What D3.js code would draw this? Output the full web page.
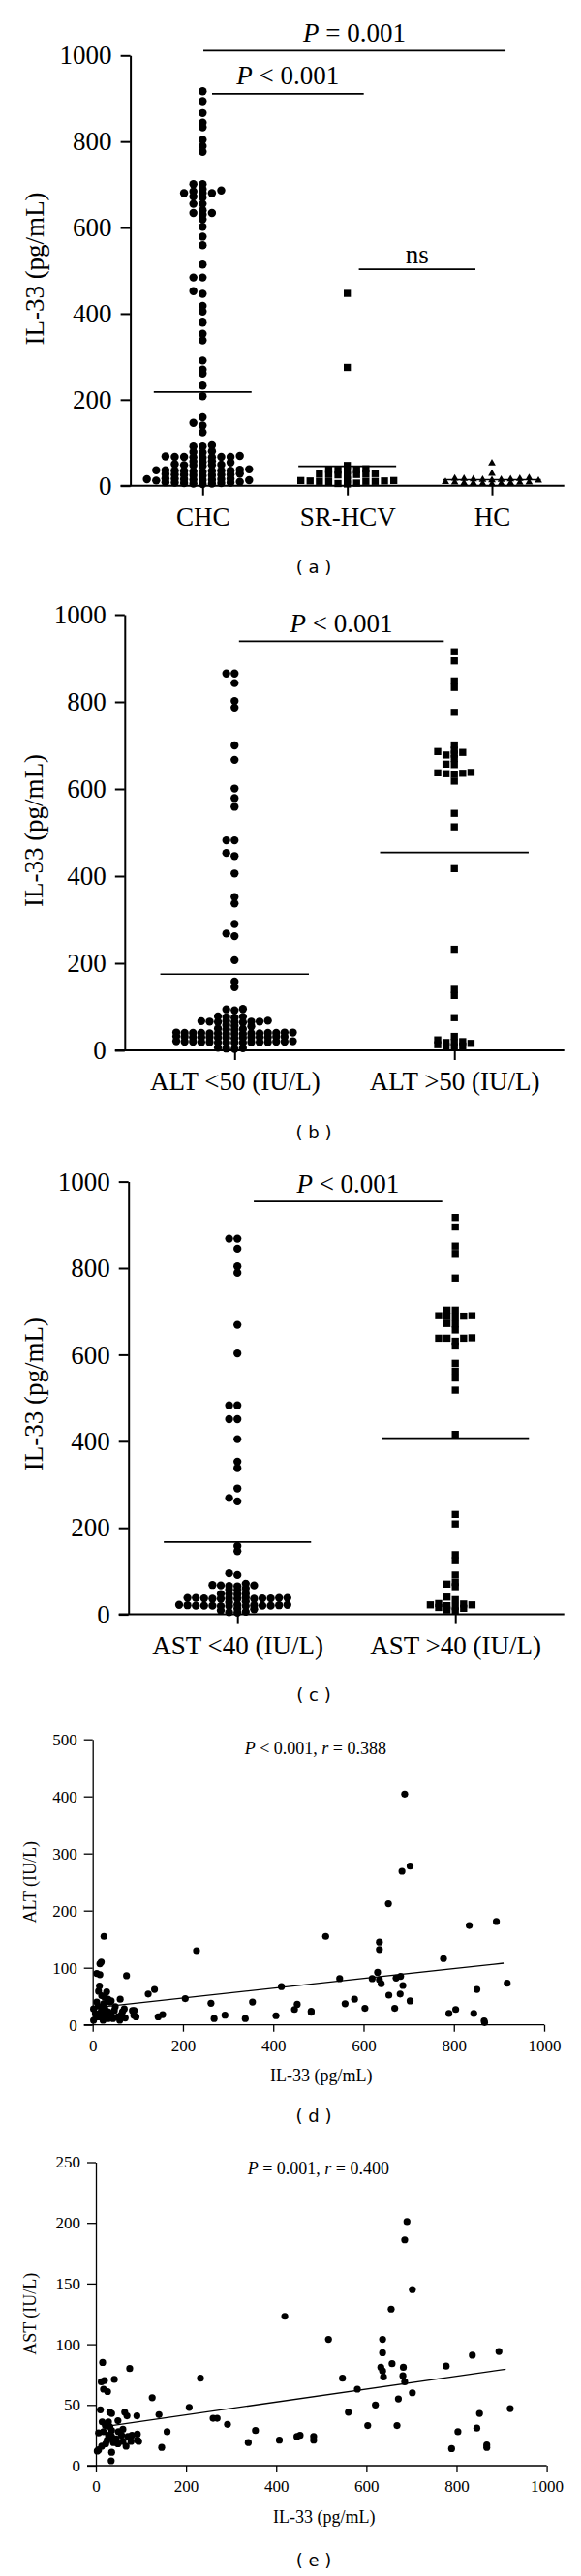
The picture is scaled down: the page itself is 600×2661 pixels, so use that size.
<!DOCTYPE html>
<html>
<head>
<meta charset="utf-8">
<script src="https://cdn.jsdelivr.net/npm/d3@7"></script>
<style>
  body { margin: 0; background: #fff; }
  svg { display: block; }
</style>
</head>
<body>
<div id="fig"></div>
<script>
// ---- data ----
const yTicksIL33 = [0, 200, 400, 600, 800, 1000];
const il33Ticks = [0, 200, 400, 600, 800, 1000];
const altTicks = [0, 100, 200, 300, 400, 500];
const astTicks = [0, 50, 100, 150, 200, 250];

// (a)
const groupsA = ["CHC", "SR-HCV", "HC"];
const chcIL33 = [917, 894, 866, 844, 833, 804, 789, 776, 701, 701, 689, 684, 680, 680, 680, 686, 670, 672,
  655, 655, 634, 634, 630, 640, 619, 602, 579, 559, 514, 484, 484, 446, 452, 418, 405, 379, 353, 338, 291,
  270, 261, 233, 208, 159, 146, 140, 124,
  94, 91, 91, 80, 78, 77, 69, 67, 67, 67, 66, 68, 65, 67, 66, 55, 57, 54, 56, 48, 49, 47, 50, 46, 48,
  35, 34, 36, 33, 38, 35, 34, 37, 32, 36, 35, 26, 24, 25, 27, 23, 25, 28, 24, 26,
  15, 14, 16, 13, 15, 17, 12, 14, 16, 15, 13, 6, 7, 5, 8, 4, 6, 7, 5, 9];
const srhcvIL33 = [447, 275, 47, 38, 36, 37, 35, 39, 26, 28, 25, 27, 24, 26, 27,
  12, 10, 11, 9, 13, 10, 11, 12, 10, 5, 4, 6];
const hcIL33 = [52, 28, 18, 15, 14, 16, 13, 17, 15, 12, 14, 16, 8, 6, 5, 7, 4, 6, 5, 8, 9, 6];
const meansA = [218, 45, 14];
const statsA = [
  { text: "*P* = 0.001", level: 1011, from: 0.005, to: 2.094, gap: 9 },
  { text: "*P* < 0.001", level: 911, from: 0.065, to: 1.114, gap: 9.5 },
  { text: "ns", level: 503, from: 1.08, to: 1.886, gap: 6.5 }
];

// (b)
const groupsB = ["ALT <50 (IU/L)", "ALT >50 (IU/L)"];
const altLowIL33 = [865, 865, 843, 802, 787, 700, 667, 601, 579, 559, 482, 482, 453, 446, 406, 352, 337,
  290, 268, 262, 207, 158, 145,
  95, 92, 94, 78, 76, 77, 75, 66, 67, 65, 66, 64, 68, 66, 65, 67, 58, 56, 55, 50, 48, 49, 47,
  40, 39, 41, 38, 40, 39, 38, 41, 40, 39, 40, 38, 41, 39, 40,
  30, 31, 29, 30, 32, 30, 29, 31, 30, 28, 31, 30, 29, 30,
  20, 19, 18, 20, 19, 21, 18, 19, 20, 18, 19, 21, 20, 18, 19, 6, 4, 5, 3];
const altHighIL33 = [915, 894, 848, 833, 776, 701, 689, 684, 680, 678, 686, 670, 657, 656, 636, 634, 637,
  635, 638, 618, 544, 513, 417, 232, 140, 126, 75, 32, 20, 18, 13, 10, 8, 9, 16, 18, 24];
const meansB = [175, 454];
const statsB = [{ text: "*P* < 0.001", level: 939, from: 0.02, to: 0.952, gap: 9 }];

// (c)
const groupsC = ["AST <40 (IU/L)", "AST >40 (IU/L)"];
const astLowIL33 = [868, 868, 845, 804, 789, 669, 603, 483, 483, 451, 451, 405, 353, 338, 291, 269, 261,
  158, 146,
  95, 91, 71, 67, 68, 66, 67, 65, 60, 56, 57, 48, 47, 46, 47,
  38, 37, 36, 38, 37, 39, 36, 37, 38, 36, 37, 38, 36, 30, 28,
  22, 20, 21, 19, 20, 22, 21, 20, 19, 21, 20, 22, 19, 20, 13, 12, 9, 6, 4, 5];
const astHighIL33 = [917, 895, 851, 834, 777, 703, 703, 689, 690, 688, 690, 687, 672, 671, 657, 639, 638,
  631, 638, 638, 620, 580, 562, 546, 518, 416, 231, 209, 138, 124, 91, 74, 70, 64, 40, 34,
  25, 22, 20, 14, 10, 8, 16, 18, 22, 24];
const meansC = [167, 407];
const statsC = [{ text: "*P* < 0.001", level: 954, from: 0.075, to: 0.94, gap: 9 }];

// (d) [IL-33, ALT]
const il33ALT = [[691, 404], [685, 269], [703, 278], [655, 212], [834, 174], [894, 181], [516, 155],
  [25, 155], [635, 145], [635, 132], [230, 130], [777, 116], [16, 107], [19, 110], [631, 92], [9, 90],
  [16, 88], [75, 86], [619, 81], [635, 79], [639, 72], [547, 81], [672, 82], [682, 85], [687, 69],
  [918, 73], [418, 67], [137, 62], [123, 54], [205, 46], [262, 38], [354, 40], [453, 36], [447, 27],
  [484, 24], [484, 22], [656, 52], [681, 54], [703, 42], [580, 45], [559, 37], [603, 29], [669, 29],
  [851, 62], [789, 20], [804, 27], [844, 20], [867, 7], [868, 4], [269, 11], [293, 17], [338, 11],
  [406, 16], [145, 14], [155, 18], [92, 25], [96, 14],
  [15, 68], [13, 59], [31, 58], [20, 51], [27, 48], [34, 45], [41, 42], [61, 45], [9, 40], [24, 37],
  [38, 40], [88, 25], [91, 17], [70, 28], [66, 23], [63, 17], [48, 25], [41, 20], [56, 14], [45, 11],
  [2, 28], [6, 20], [9, 14], [2, 8], [27, 28], [34, 23], [27, 17], [34, 11], [23, 8], [16, 14],
  [20, 30], [12, 33], [50, 32], [30, 20], [18, 22], [60, 8], [72, 12]];
const fitALT = [[30, 32.5], [910, 108]];

// (e) [IL-33, AST]
const il33AST = [[690, 201], [685, 186], [702, 145], [655, 129], [419, 123], [516, 104], [636, 104],
  [636, 93], [657, 84], [894, 94], [835, 91], [777, 82], [632, 81], [636, 78], [638, 73], [682, 81],
  [681, 74], [685, 69], [547, 72], [580, 63], [232, 72], [702, 60], [671, 55], [620, 50], [560, 44],
  [603, 33], [668, 33], [919, 47], [851, 43], [845, 31], [803, 28], [789, 14], [867, 17], [867, 15],
  [207, 48], [260, 39], [269, 39], [292, 34], [354, 29], [338, 19], [407, 21], [446, 24], [453, 25],
  [483, 24], [483, 21], [125, 56], [140, 42], [158, 28], [146, 15], [75, 80], [15, 85], [12, 69],
  [19, 70], [41, 71], [17, 63], [26, 61], [10, 46], [31, 44], [35, 43], [64, 44], [69, 41], [91, 41],
  [49, 37], [14, 36], [21, 33], [31, 32], [6, 27], [17, 28], [28, 25], [35, 29], [35, 24], [25, 21],
  [39, 19], [57, 25], [71, 24], [60, 20], [49, 18], [67, 16], [78, 20], [92, 26], [92, 21], [95, 20],
  [6, 13], [3, 12], [35, 11], [34, 4], [13, 16], [45, 22], [22, 18], [80, 25], [50, 28], [60, 30], [28, 36]];
const fitAST = [[35, 33], [909, 79.5]];

// ---- drawing ----
const serif = "'Liberation Serif', 'Times New Roman', serif";
const sans = "'DejaVu Sans', Verdana, sans-serif";
const fmt = d3.format("d");

const svg = d3.select("#fig").append("svg")
  .attr("width", 600)
  .attr("height", 2661);
svg.append("rect").attr("width", 600).attr("height", 2661).attr("fill", "#fff");

// text with *italic* segments
function richText(g, str, x, y, size) {
  const t = g.append("text")
    .attr("x", x).attr("y", y)
    .attr("text-anchor", "middle")
    .attr("font-family", serif)
    .attr("font-size", size);
  str.split("*").forEach((s, i) => {
    if (s) t.append("tspan").attr("font-style", i % 2 ? "italic" : "normal").text(s);
  });
}

function caption(letter, y) {
  svg.append("text")
    .attr("x", 324).attr("y", y)
    .attr("text-anchor", "middle")
    .attr("font-family", sans)
    .attr("font-size", 18)
    .attr("xml:space", "preserve")
    .text(`( ${letter} )`);
}

// column layout, ascending values, alternate sides
function swarm(vals, y, cx, colStep, minGap) {
  const pts = vals.map(v => ({ v, py: y(v) })).sort((a, b) => a.v - b.v);
  const placed = [];
  pts.forEach(p => {
    for (let k = 0; k < 80; k++) {
      const col = Math.ceil(k / 2) * (k % 2 ? -1 : 1);
      if (!placed.some(q => q.col === col && Math.abs(q.py - p.py) < minGap)) {
        p.col = col;
        break;
      }
    }
    p.px = cx + p.col * colStep;
    placed.push(p);
  });
  return pts;
}

function styleAxis(a, size, sw) {
  a.attr("font-family", serif).attr("font-size", size);
  a.selectAll("line,path").attr("stroke", "#000").attr("stroke-width", sw);
  a.selectAll("text").attr("fill", "#000");
}

function dotPanel(p) {
  const f = p.frame;
  const y = d3.scaleLinear().domain([0, 1000]).range([f.bottom, f.top]);
  const x = d3.scalePoint().domain(p.groups).range([f.left, f.right]).padding(0.5);
  const step = x.step();
  const g = svg.append("g");

  const ya = g.append("g")
    .attr("transform", `translate(${f.left},0)`)
    .call(d3.axisLeft(y).tickValues(yTicksIL33).tickFormat(fmt)
      .tickSize(10).tickSizeOuter(0).tickPadding(9));
  styleAxis(ya, 27, 2);

  const xa = g.append("g")
    .attr("transform", `translate(0,${f.bottom})`)
    .call(d3.axisBottom(x).tickSize(10).tickSizeOuter(0).tickPadding(12));
  xa.select(".domain").remove();
  styleAxis(xa, 27, 2);
  g.append("line")
    .attr("x1", f.left - 10).attr("x2", f.right)
    .attr("y1", f.bottom).attr("y2", f.bottom)
    .attr("stroke", "#000").attr("stroke-width", 2);

  // means
  g.selectAll(".mean")
    .data(p.means)
    .join("line")
    .attr("class", "mean")
    .attr("x1", (d, i) => x(p.groups[i]) - 0.338 * step)
    .attr("x2", (d, i) => x(p.groups[i]) + 0.338 * step)
    .attr("y1", d => y(d))
    .attr("y2", d => y(d))
    .attr("stroke", "#000")
    .attr("stroke-width", 1.7);

  p.series.forEach((vals, i) => {
    const pts = swarm(vals, y, x(p.groups[i]), p.colStep, p.gap);
    g.append("g")
      .selectAll("path")
      .data(pts)
      .join("path")
      .attr("transform", d => `translate(${d.px},${d.py})`)
      .attr("d", d3.symbol().type(p.shapes[i]).size(p.sizes[i]))
      .attr("fill", "#000");
  });

  p.stats.forEach(s => {
    const x1 = x(p.groups[0]) + s.from * step;
    const x2 = x(p.groups[0]) + s.to * step;
    const yy = y(s.level);
    g.append("line")
      .attr("x1", x1).attr("x2", x2).attr("y1", yy).attr("y2", yy)
      .attr("stroke", "#000").attr("stroke-width", 1.8);
    richText(g, s.text, (x1 + x2) / 2, yy - s.gap, 27);
  });

  g.append("text")
    .attr("transform", `translate(${p.ylabX},${(f.top + f.bottom) / 2 + p.ylabDy}) rotate(-90)`)
    .attr("text-anchor", "middle")
    .attr("dy", "0.35em")
    .attr("font-family", serif)
    .attr("font-size", 27)
    .text("IL-33 (pg/mL)");

  caption(p.caption, p.captionY);
}

function scatterPanel(p) {
  const f = p.frame;
  const x = d3.scaleLinear().domain([0, 1000]).range([f.left, f.right]);
  const y = d3.scaleLinear().domain([0, p.yMax]).range([f.bottom, f.top]);
  const g = svg.append("g");

  const ya = g.append("g")
    .attr("transform", `translate(${f.left},0)`)
    .call(d3.axisLeft(y).tickValues(p.yTicks).tickFormat(fmt)
      .tickSize(9).tickSizeOuter(0).tickPadding(7));
  styleAxis(ya, 17, 1.3);

  const xa = g.append("g")
    .attr("transform", `translate(0,${f.bottom})`)
    .call(d3.axisBottom(x).tickValues(il33Ticks).tickFormat(fmt)
      .tickSize(7).tickSizeOuter(0).tickPadding(8));
  xa.select(".domain").remove();
  styleAxis(xa, 17, 1.3);
  g.append("line")
    .attr("x1", f.left - 9).attr("x2", f.right)
    .attr("y1", f.bottom).attr("y2", f.bottom)
    .attr("stroke", "#000").attr("stroke-width", 1.3);

  g.append("g")
    .selectAll("circle")
    .data(p.data)
    .join("circle")
    .attr("cx", d => x(d[0]))
    .attr("cy", d => y(d[1]))
    .attr("r", 3.6)
    .attr("fill", "#000");

  g.append("path")
    .attr("d", d3.line().x(d => x(d[0])).y(d => y(d[1]))(p.fit))
    .attr("fill", "none")
    .attr("stroke", "#000")
    .attr("stroke-width", 1.3);

  richText(g, p.title, (f.left + f.right) / 2 - 3, p.titleY, 18);

  g.append("text")
    .attr("x", (f.left + f.right) / 2 + 3).attr("y", p.xlabY)
    .attr("text-anchor", "middle")
    .attr("font-family", serif)
    .attr("font-size", 18)
    .text("IL-33 (pg/mL)");

  g.append("text")
    .attr("transform", `translate(31,${(f.top + f.bottom) / 2}) rotate(-90)`)
    .attr("text-anchor", "middle")
    .attr("dy", "0.35em")
    .attr("font-family", serif)
    .attr("font-size", 18)
    .text(p.ylab);

  caption(p.caption, p.captionY);
}

dotPanel({
  frame: { left: 134.6, right: 582.7, top: 57.3, bottom: 501.7 },
  groups: groupsA,
  series: [chcIL33, srhcvIL33, hcIL33],
  shapes: [d3.symbolCircle, d3.symbolSquare, d3.symbolTriangle],
  sizes: [56, 54, 26],
  colStep: 9.6, gap: 3.8,
  means: meansA,
  stats: statsA,
  ylabX: 36, ylabDy: -2,
  caption: "a", captionY: 592
});

dotPanel({
  frame: { left: 128.8, right: 582.7, top: 635, bottom: 1085 },
  groups: groupsB,
  series: [altLowIL33, altHighIL33],
  shapes: [d3.symbolCircle, d3.symbolSquare],
  sizes: [54, 54],
  colStep: 8.6, gap: 3.8,
  means: meansB,
  stats: statsB,
  ylabX: 35, ylabDy: -2,
  caption: "b", captionY: 1176
});

dotPanel({
  frame: { left: 132.7, right: 582.7, top: 1220.6, bottom: 1667.6 },
  groups: groupsC,
  series: [astLowIL33, astHighIL33],
  shapes: [d3.symbolCircle, d3.symbolSquare],
  sizes: [54, 54],
  colStep: 8.6, gap: 3.8,
  means: meansC,
  stats: statsC,
  ylabX: 35, ylabDy: -4,
  caption: "c", captionY: 1757
});

scatterPanel({
  frame: { left: 95.7, right: 562, top: 1796.7, bottom: 2091.7 },
  yMax: 500, yTicks: altTicks,
  data: il33ALT, fit: fitALT,
  title: "*P* < 0.001, *r* = 0.388", titleY: 1812,
  xlabY: 2150, ylab: "ALT (IU/L)",
  caption: "d", captionY: 2192
});

scatterPanel({
  frame: { left: 99, right: 564.6, top: 2233.5, bottom: 2547 },
  yMax: 250, yTicks: astTicks,
  data: il33AST, fit: fitAST,
  title: "*P* = 0.001, *r* = 0.400", titleY: 2246,
  xlabY: 2606, ylab: "AST (IU/L)",
  caption: "e", captionY: 2651
});
</script>
</body>
</html>
